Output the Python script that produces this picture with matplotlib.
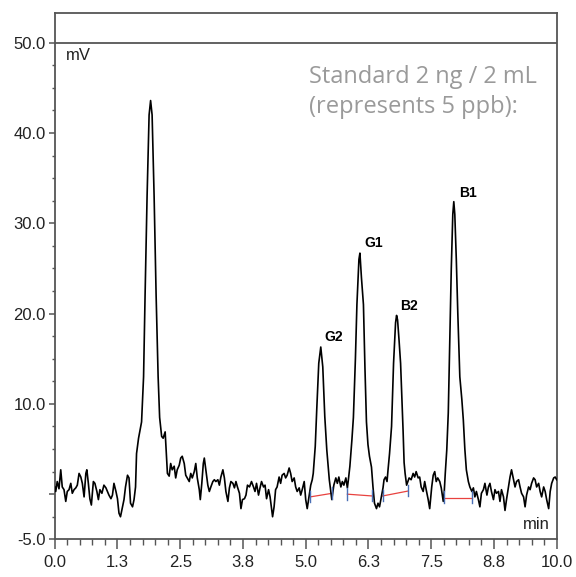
import matplotlib
matplotlib.use("Agg")
import matplotlib.pyplot as plt
import numpy as np

# Chromatogram trace (time in min, signal in mV)
time_min = [
    0.00, 0.02, 0.05, 0.085, 0.12, 0.15, 0.185, 0.22, 0.25, 0.285, 0.32, 0.35, 0.385, 0.42, 0.45,
    0.485, 0.52, 0.55, 0.585, 0.62, 0.64, 0.67, 0.70, 0.73, 0.77, 0.80, 0.84, 0.87, 0.90, 0.94,
    0.98, 1.02, 1.05, 1.08, 1.12, 1.15, 1.18, 1.22, 1.25, 1.28, 1.31, 1.35, 1.38, 1.41, 1.45,
    1.48, 1.51, 1.55, 1.58, 1.61, 1.63, 1.67, 1.70, 1.73, 1.77, 1.80, 1.84, 1.88, 1.91, 1.94,
    1.98, 2.02, 2.06, 2.09, 2.13, 2.16, 2.20, 2.245, 2.28, 2.31, 2.34, 2.38, 2.41, 2.44, 2.48,
    2.51, 2.54, 2.58, 2.61, 2.64, 2.68, 2.71, 2.74, 2.78, 2.81, 2.84, 2.88, 2.90, 2.93, 2.96,
    2.98, 3.01, 3.05, 3.08, 3.11, 3.15, 3.18, 3.21, 3.25, 3.28, 3.31, 3.35, 3.38, 3.41, 3.45,
    3.48, 3.51, 3.55, 3.58, 3.61, 3.64, 3.68, 3.71, 3.74, 3.78, 3.81, 3.84, 3.88, 3.92, 3.96,
    3.99, 4.02, 4.06, 4.09, 4.12, 4.16, 4.19, 4.22, 4.26, 4.29, 4.32, 4.34, 4.37, 4.40, 4.43,
    4.47, 4.50, 4.53, 4.57, 4.60, 4.63, 4.67, 4.70, 4.73, 4.77, 4.80, 4.83, 4.87, 4.90, 4.93,
    4.97, 5.00, 5.03, 5.07, 5.10, 5.13, 5.15, 5.19, 5.22, 5.26, 5.30, 5.34, 5.38, 5.42, 5.47,
    5.52, 5.56, 5.60, 5.63, 5.66, 5.70, 5.73, 5.76, 5.80, 5.83, 5.85, 5.88, 5.92, 5.95, 5.99,
    6.02, 6.06, 6.08, 6.11, 6.15, 6.18, 6.21, 6.24, 6.27, 6.31, 6.34, 6.37, 6.41, 6.44, 6.47,
    6.50, 6.54, 6.56, 6.59, 6.62, 6.64, 6.67, 6.71, 6.75, 6.79, 6.81, 6.83, 6.86, 6.89, 6.94,
    6.96, 6.98, 7.01, 7.06, 7.10, 7.14, 7.17, 7.20, 7.24, 7.27, 7.30, 7.34, 7.37, 7.40, 7.44,
    7.47, 7.51, 7.54, 7.57, 7.60, 7.63, 7.67, 7.70, 7.74, 7.76, 7.78, 7.81, 7.84, 7.87, 7.90,
    7.93, 7.95, 7.97, 8.00, 8.03, 8.07, 8.11, 8.14, 8.17, 8.20, 8.24, 8.27, 8.31, 8.34, 8.37,
    8.40, 8.44, 8.47, 8.50, 8.54, 8.57, 8.61, 8.64, 8.67, 8.70, 8.74, 8.77, 8.80, 8.84, 8.87,
    8.90, 8.94, 8.97, 9.00, 9.04, 9.07, 9.10, 9.14, 9.17, 9.20, 9.24, 9.27, 9.30, 9.34, 9.37,
    9.40, 9.44, 9.47, 9.50, 9.54, 9.57, 9.60, 9.64, 9.67, 9.70, 9.74, 9.77, 9.80, 9.84, 9.87,
    9.90, 9.94, 9.97, 10.00,
]
signal_mv = [
    0.8, 0.3, 1.4, 0.6, 2.7, 0.8, 0.5, -0.8, 0.3, 0.5, 1.2, 0.1, 0.5, 0.7, 1.0,
    2.3, 1.9, 1.2, -0.3, 2.3, 2.7, 1.2, -0.5, -1.2, 1.4, 1.2, 0.3, -0.6, 0.5, 0.1,
    1.0, 0.7, 0.3, -0.1, -0.5, -0.1, 1.2, 0.3, -0.5, -2.1, -2.5, -1.4, -0.6, 0.8, 2.1,
    1.8, -1.0, -1.4, -0.6, 0.8, 4.5, 6.2, 7.1, 8.0, 13.0, 22.0, 33.0, 42.0, 43.6, 42.0,
    33.0, 22.0, 13.0, 8.5, 6.4, 6.2, 6.9, 2.3, 2.0, 3.4, 2.7, 3.1, 1.8, 2.7, 3.2,
    4.0, 4.2, 3.4, 2.1, 1.8, 1.4, 2.3, 1.8, 2.5, 3.4, 1.8, 0.5, -0.6, 1.2, 3.4,
    4.0, 2.7, 1.0, 0.3, 0.8, 1.4, 1.6, 1.4, 1.6, 1.0, 1.9, 2.7, 1.8, 0.3, -0.8,
    0.7, 1.4, 1.2, 0.7, 1.4, 0.8, 0.1, -1.6, -0.6, -0.5, -0.1, 1.0, 0.8, 1.4, 0.8,
    0.3, 1.2, -0.1, 0.7, 1.4, 0.8, 1.0, -0.5, 0.5, -0.3, -1.6, -2.5, -1.4, 0.5, 0.8,
    1.9, 1.2, 2.1, 2.3, 1.8, 2.1, 2.9, 2.3, 1.4, 1.8, 0.8, 0.3, 0.7, -0.1, 0.5,
    1.4, -0.6, -1.6, -0.1, 1.0, 1.6, 2.3, 5.3, 9.4, 14.5, 16.3, 14.1, 8.6, 4.9, 1.6,
    -0.6, 1.0, 1.8, 1.2, 1.9, 0.8, 1.4, 1.0, 1.8, 0.7, 1.6, 3.1, 6.0, 8.5, 15.0,
    21.0, 26.0, 26.7, 24.0, 21.0, 14.0, 8.0, 5.5, 4.2, 3.0, 0.8, -1.0, -1.6, -1.0, -1.4,
    -0.5, 0.7, 1.6, 1.9, 1.4, 2.7, 4.5, 7.5, 14.5, 19.0, 19.8, 19.3, 17.0, 14.5, 7.0,
    3.5, 2.3, 1.0, 1.8, 1.6, 2.3, 1.9, 2.5, 1.8, 1.9, 0.8, 0.3, 1.4, 0.5, -0.6,
    -1.6, 0.8, 2.1, 2.5, 1.4, 1.8, 1.4, 0.7, -0.8, 0.3, 2.3, 4.9, 9.0, 17.0, 25.0,
    31.0, 32.4, 31.0, 26.0, 20.0, 13.0, 10.5, 8.2, 5.0, 2.7, 1.4, 0.8, 0.3, 0.7, -0.3,
    0.3, -0.6, -1.4, 0.1, 0.5, 1.2, -0.1, 0.8, 1.2, 0.3, -0.6, 0.5, 0.1, 0.3, -0.8,
    0.5, -0.3, -1.8, -0.6, 0.8, 1.9, 2.7, 1.6, 0.8, 1.4, 1.6, 0.8, 0.1, -0.3, -1.4,
    -0.1, 0.8, 0.5, 1.2, 1.8, 1.6, 0.8, 1.2, 0.3, -0.3, 0.8, 0.3, -0.6, -1.6, 0.3,
    1.2, 1.8, 1.9, 1.6,
]

# Peak names and label anchor points
peak_names = ["G2", "G1", "B2", "B1"]
peak_label_t = [5.38, 6.16, 6.89, 8.06]
peak_label_mv = [17.4, 27.8, 20.8, 33.4]

# Integration baselines (start/end of each peak)
base_t0 = [5.09, 5.83, 6.53, 7.76]
base_mv0 = [-0.3, 0.0, -0.2, -0.4]
base_t1 = [5.53, 6.33, 7.04, 8.31]
base_mv1 = [0.1, -0.2, 0.35, -0.4]

note_lines = ["Standard 2 ng / 2 mL", "(represents 5 ppb):"]

x_major = [0.0, 1.25, 2.5, 3.75, 5.0, 6.25, 7.5, 8.75, 10.0]
x_labels = ["0.0", "1.3", "2.5", "3.8", "5.0", "6.3", "7.5", "8.8", "10.0"]
y_major = [-5, 0, 10, 20, 30, 40, 50]
y_labels = ["-5.0", "", "10.0", "20.0", "30.0", "40.0", "50.0"]

plt.rcParams['font.family'] = ['Liberation Sans', 'DejaVu Sans']
spine_c = "#555555"

fig = plt.figure(figsize=(5.76, 5.77), dpi=100)
ax = fig.add_axes([0.095, 0.0653, 0.8715, 0.9127])

ax.plot(time_min, signal_mv, color="black", lw=1.2, zorder=3)

# red baselines with blue end marks
for t0, m0, t1, m1 in zip(base_t0, base_mv0, base_t1, base_mv1):
    ax.plot([t0, t1], [m0, m1], color="#e8423f", lw=0.9, zorder=2)
    ax.plot([t0, t0], [m0 + 0.7, m0 - 0.6], color="#4a6fb5", lw=1.0, zorder=4)
    ax.plot([t1, t1], [m1 + 0.7, m1 - 0.6], color="#4a6fb5", lw=1.0, zorder=4)

for name, t, m in zip(peak_names, peak_label_t, peak_label_mv):
    ax.text(t, m, name, fontsize=10, fontweight="bold", ha="left", va="center")

ax.axhline(50, color=spine_c, lw=1.3)
ax.text(0.22, 48.6, "mV", fontsize=12, ha="left", va="center", color="#222222")
ax.text(9.87, -3.4, "min", fontsize=12, ha="right", va="center", color="#222222")
for line, m in zip(note_lines, [45.57, 42.18]):
    ax.text(5.07, m, line, fontsize=17, family="Open Sans", color="#9a9a9a",
            ha="left", va="baseline")

ax.set_xlim(0, 10)
ax.set_ylim(-5, 53.33)
ax.set_xticks(x_major)
ax.set_xticklabels(x_labels)
ax.set_xticks(np.arange(0, 10.01, 0.25), minor=True)
ax.set_yticks(y_major)
ax.set_yticklabels(y_labels)
ax.set_yticks(np.arange(-5, 50.01, 2.5), minor=True)

ax.tick_params(axis="x", which="major", length=7, width=1.1, color=spine_c,
               labelsize=12, pad=4, labelcolor="#222222")
ax.tick_params(axis="x", which="minor", length=4, width=1.0, color=spine_c)
ax.tick_params(axis="y", which="major", length=4.5, width=1.1, color=spine_c,
               labelsize=12, pad=2, labelcolor="#222222")
ax.tick_params(axis="y", which="minor", length=2.2, width=1.0, color=spine_c)

for s in ax.spines.values():
    s.set_color(spine_c)
    s.set_linewidth(1.3)

fig.savefig("out.png", dpi=100)
